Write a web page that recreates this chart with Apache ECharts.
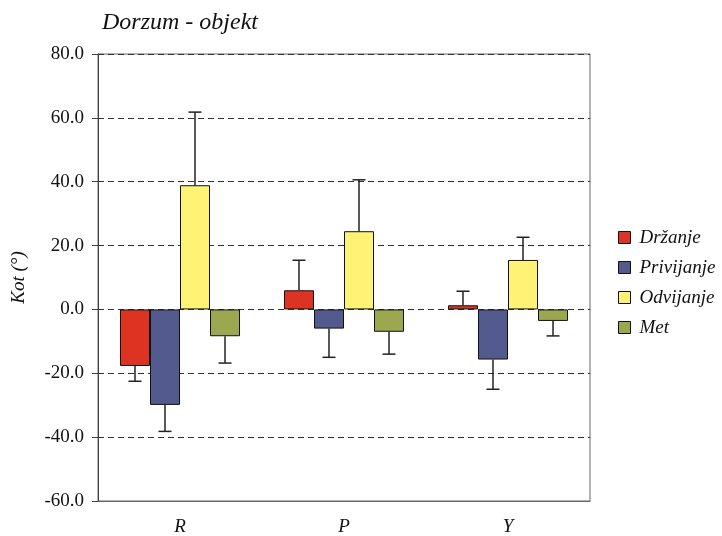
<!DOCTYPE html>
<html><head><meta charset="utf-8">
<script src="https://cdn.jsdelivr.net/npm/echarts@6/dist/echarts.min.js"></script>
<style>html,body{margin:0;padding:0;background:#fff}#c{width:722px;height:536px}</style>
</head><body><div id="c"></div>
<script>
const categories = ['R', 'P', 'Y'];
const seriesNames = ['Držanje', 'Privijanje', 'Odvijanje', 'Met'];
const drzanje = [-17.7, 6.0, 1.3];
const privijanje = [-29.9, -6.0, -15.7];
const odvijanje = [38.9, 24.5, 15.5];
const met = [-8.4, -7.0, -3.6];
const drzanjeSD = [4.8, 9.4, 4.4];
const privijanjeSD = [8.3, 9.0, 9.3];
const odvijanjeSD = [22.9, 16.1, 7.1];
const metSD = [8.4, 7.0, 4.7];
const yTicks = [-60, -40, -20, 0, 20, 40, 60, 80];

const colors = ['#DD3322', '#525A8E', '#FFF275', '#9BA84F'];
const values = [drzanje, privijanje, odvijanje, met];
const sds = [drzanjeSD, privijanjeSD, odvijanjeSD, metSD];
const BARFRAC = 0.183;
const serif = '"Liberation Serif", "DejaVu Serif", serif';

const series = [];
values.forEach((vals, i) => {
  series.push({
    name: seriesNames[i], type: 'bar', data: vals,
    barWidth: (BARFRAC * 100) + '%', barGap: '0%',
    itemStyle: { color: colors[i], borderColor: '#111', borderWidth: 1 },
    z: 2
  });
});
values.forEach((vals, i) => {
  const data = vals.map((v, k) => [k, v, sds[i][k]]);
  series.push({
    type: 'custom', name: 'err' + i, z: 1,
    renderItem: function (params, api) {
      const k = api.value(0), v = api.value(1), sd = api.value(2);
      const end = v >= 0 ? v + sd : v - sd;
      const base = api.coord([k, v]);
      const tip = api.coord([k, end]);
      const band = api.size([1, 0])[0];
      const bw = band * BARFRAC;
      const x = base[0] + (i - 1.5) * bw;
      const cap = 6.5;
      return {
        type: 'group',
        children: [
          { type: 'line', shape: { x1: x, y1: base[1], x2: x, y2: tip[1] }, style: { stroke: '#222', lineWidth: 1.5 } },
          { type: 'line', shape: { x1: x - cap, y1: tip[1], x2: x + cap, y2: tip[1] }, style: { stroke: '#222', lineWidth: 1.5 } }
        ]
      };
    },
    data: data
  });
});

const chart = echarts.init(document.getElementById('c'));
chart.setOption({
  animation: false,
  backgroundColor: '#fff',
  title: {
    text: 'Dorzum - objekt', left: 97, top: 6,
    textStyle: { fontFamily: serif, fontStyle: 'italic', fontWeight: 'normal', fontSize: 24, color: '#111' }
  },
  legend: {
    data: seriesNames, orient: 'vertical', left: 613, top: 223,
    itemWidth: 12, itemHeight: 12, itemGap: 11, icon: 'rect',
    itemStyle: { borderColor: '#111', borderWidth: 1 },
    textStyle: { fontFamily: serif, fontStyle: 'italic', fontSize: 19, color: '#111', padding: [0, 0, 0, 4] }
  },
  grid: { left: 98, right: 132, top: 54, bottom: 34, show: true, borderColor: '#666', borderWidth: 1, backgroundColor: 'transparent' },
  xAxis: {
    type: 'category', data: categories,
    axisLine: { onZero: false, lineStyle: { color: '#666' } },
    axisTick: { show: false },
    axisLabel: { fontFamily: serif, fontStyle: 'italic', fontSize: 19, color: '#111', margin: 16 }
  },
  yAxis: {
    type: 'value', min: yTicks[0], max: yTicks[yTicks.length - 1], interval: 20,
    name: 'Kot (°)', nameLocation: 'middle', nameGap: 70,
    nameTextStyle: { fontFamily: serif, fontStyle: 'italic', fontSize: 19, color: '#111' },
    axisLine: { show: true, lineStyle: { color: '#444' } },
    axisTick: { show: true, length: 6, lineStyle: { color: '#444' } },
    axisLabel: { fontFamily: serif, fontSize: 19, color: '#111', margin: 14, formatter: v => v.toFixed(1) },
    splitLine: { show: true, lineStyle: { color: '#333', type: [6, 4], width: 1 } }
  },
  series: series
});
</script></body></html>
